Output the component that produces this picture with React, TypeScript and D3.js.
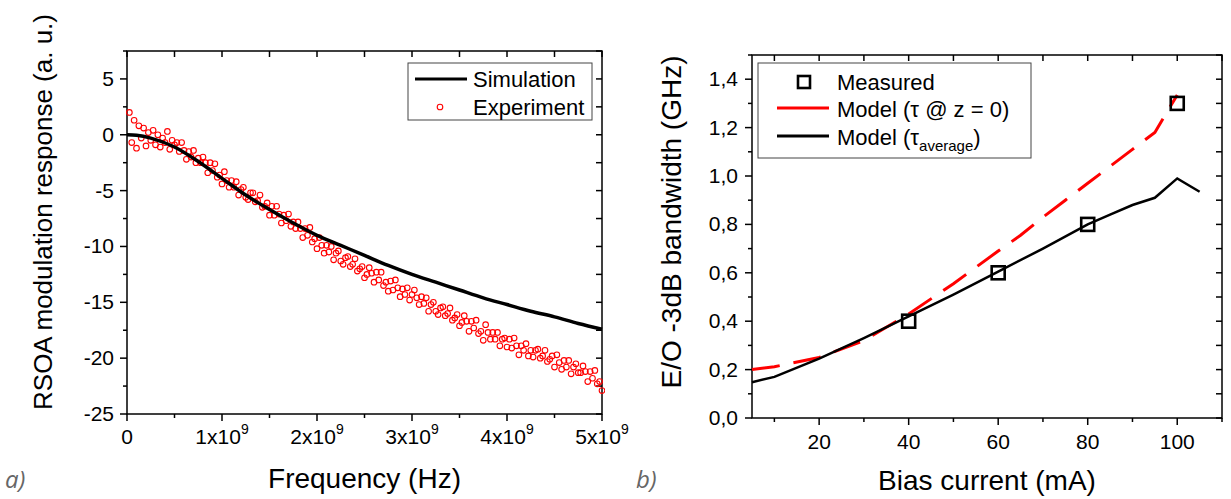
import React from "react";
import * as d3 from "d3";

// ---------- Panel a) data ----------
const simFreqGHz = [0, 0.1, 0.25, 0.5, 0.75, 1.0, 1.25, 1.5, 1.75, 2.0, 2.25, 2.5, 2.75, 3.0, 3.25, 3.5, 3.75, 4.0, 4.25, 4.5, 4.75, 5.0];
const simDb = [0, -0.05, -0.3, -1.1, -2.4, -3.9, -5.4, -6.7, -7.9, -9.0, -9.9, -10.8, -11.7, -12.5, -13.2, -13.9, -14.6, -15.2, -15.8, -16.3, -16.9, -17.4];

// experiment sweep: 25 MHz steps starting at 25 MHz
const expStepGHz = 0.025;
const expDb = [
  2.0, -0.7, 1.3, -1.2, 0.8, -0.3, 0.6, -1.0, 0.2, -0.5,
  0.4, -0.9, 0.0, -1.1, -0.3, -0.7, 0.3, -1.3, -0.5, -0.9,
  -0.7, -1.5, -0.7, -1.4, -2.2, -1.5, -2.0, -1.4, -2.5, -2.1,
  -2.5, -2.0, -2.5, -3.4, -2.5, -3.2, -2.6, -3.8, -3.6, -4.4,
  -3.3, -4.1, -4.7, -4.1, -4.7, -4.2, -5.4, -4.9, -4.7, -5.6,
  -5.8, -5.2, -5.2, -6.0, -5.9, -5.4, -6.5, -6.4, -6.1, -7.2,
  -6.4, -7.2, -6.4, -7.1, -7.9, -7.2, -7.7, -7.1, -8.2, -7.8,
  -8.4, -7.8, -8.4, -9.2, -8.4, -9.0, -8.3, -9.6, -9.3, -10.2,
  -9.2, -9.9, -10.6, -9.9, -10.5, -10.0, -11.2, -10.6, -10.4, -11.3,
  -11.6, -11.0, -10.9, -11.8, -11.6, -11.1, -12.2, -12.0, -11.8, -12.8,
  -12.5, -11.9, -12.4, -13.2, -12.3, -13.0, -12.3, -13.5, -13.2, -14.0,
  -13.1, -13.9, -13.0, -13.7, -14.5, -13.8, -14.3, -13.7, -14.8, -14.3,
  -13.9, -14.6, -15.2, -14.5, -15.1, -14.6, -15.8, -15.2, -15.0, -15.8,
  -16.1, -15.5, -15.4, -16.2, -16.0, -15.5, -16.6, -16.4, -16.1, -17.1,
  -16.8, -16.2, -16.7, -17.6, -16.7, -17.3, -16.6, -17.8, -17.6, -18.4,
  -17.0, -17.7, -18.3, -17.7, -18.3, -17.7, -18.9, -18.3, -18.2, -19.0,
  -18.3, -19.1, -18.2, -18.9, -19.7, -18.9, -19.3, -18.7, -19.8, -19.3,
  -19.9, -19.3, -19.2, -20.0, -19.8, -19.3, -20.3, -20.1, -19.8, -20.8,
  -19.7, -20.4, -21.0, -20.2, -20.8, -20.2, -21.4, -20.8, -20.5, -21.3,
  -21.3, -20.7, -21.2, -22.1, -21.2, -21.8, -21.1, -22.3, -22.1, -22.9,
];

const aXTicksGHz = [0, 1, 2, 3, 4, 5];
const aYTicks = [5, 0, -5, -10, -15, -20, -25];

// ---------- Panel b) data ----------
const measCurrent = [40, 60, 80, 100];
const measBw = [0.4, 0.6, 0.8, 1.3];
const modelZ0Current = [5, 10, 20, 30, 40, 50, 60, 65, 70, 75, 80, 85, 90, 95, 100];
const modelZ0Bw = [0.2, 0.212, 0.25, 0.32, 0.43, 0.555, 0.69, 0.755, 0.83, 0.9, 0.97, 1.04, 1.11, 1.18, 1.335];
const modelAvgCurrent = [5, 10, 20, 30, 40, 50, 60, 70, 80, 85, 90, 95, 100, 105];
const modelAvgBw = [0.148, 0.17, 0.245, 0.33, 0.42, 0.51, 0.605, 0.7, 0.8, 0.84, 0.88, 0.91, 0.99, 0.935];
const bXTicks = [20, 40, 60, 80, 100];
const bYTicks = [0, 0.2, 0.4, 0.6, 0.8, 1.0, 1.2, 1.4];

const FONT = "'Liberation Sans', Arial, sans-serif";

function rangeStep(a: number, b: number, s: number) {
  const out: number[] = [];
  for (let v = a; v <= b + 1e-9; v += s) out.push(+v.toFixed(6));
  return out;
}

function PanelA() {
  const L = 127, R = 602, T = 51, B = 414;
  const x = d3.scaleLinear().domain([0, 5]).range([L, R]);
  const y = d3.scaleLinear().domain([-25, 7.5]).range([B, T]);
  const simLine = d3
    .line<number>()
    .x((_, i) => x(simFreqGHz[i]))
    .y((d) => y(d))
    .curve(d3.curveMonotoneX)(simDb) as string;

  const minorX = rangeStep(0.5, 4.5, 1);
  const minorY = rangeStep(-22.5, 7.5, 5);
  const allX = rangeStep(0, 5, 0.5);
  const allY = rangeStep(-25, 7.5, 2.5);

  return (
    <g fontFamily={FONT}>
      <rect x={L} y={T} width={R - L} height={B - T} fill="none" stroke="#000" strokeWidth={1.5} />
      {aXTicksGHz.map((t) => (
        <line key={"bx" + t} x1={x(t)} x2={x(t)} y1={B} y2={B + 7} stroke="#000" strokeWidth={1.5} />
      ))}
      {minorX.map((t) => (
        <line key={"bmx" + t} x1={x(t)} x2={x(t)} y1={B} y2={B + 4} stroke="#000" strokeWidth={1.5} />
      ))}
      {allX.map((t) => (
        <line key={"tx" + t} x1={x(t)} x2={x(t)} y1={T} y2={T + 6} stroke="#000" strokeWidth={1.5} />
      ))}
      {aYTicks.map((t) => (
        <line key={"ly" + t} x1={L - 7} x2={L} y1={y(t)} y2={y(t)} stroke="#000" strokeWidth={1.5} />
      ))}
      {minorY.map((t) => (
        <line key={"lmy" + t} x1={L - 4} x2={L} y1={y(t)} y2={y(t)} stroke="#000" strokeWidth={1.5} />
      ))}
      {allY.map((t) => (
        <line key={"ry" + t} x1={R - 6} x2={R} y1={y(t)} y2={y(t)} stroke="#000" strokeWidth={1.5} />
      ))}
      {aYTicks.map((t) => (
        <text key={"yl" + t} x={L - 13} y={y(t) + 7} fontSize={21} textAnchor="end">
          {t}
        </text>
      ))}
      {aXTicksGHz.map((t) => (
        <text key={"xl" + t} x={x(t)} y={B + 30} fontSize={21} textAnchor="middle">
          {t === 0 ? (
            "0"
          ) : (
            <>
              <tspan>{t + "x10"}</tspan>
              <tspan dy={-10} fontSize={14}>9</tspan>
            </>
          )}
        </text>
      ))}
      <g clipPath="url(#clipA)">
        {expDb.map((d, i) => (
          <circle key={"e" + i} cx={x((i + 1) * expStepGHz)} cy={y(d)} r={2.8} fill="none" stroke="#ff0000" strokeWidth={1.1} />
        ))}
        <path d={simLine} fill="none" stroke="#000" strokeWidth={3.5} />
      </g>
      <clipPath id="clipA">
        <rect x={L - 3} y={T} width={R - L + 6} height={B - T} />
      </clipPath>
      <text x={(L + R) / 2} y={488} fontSize={28} textAnchor="middle">
        Frequency (Hz)
      </text>
      <text transform="translate(52,212) rotate(-90)" fontSize={26} textAnchor="middle">
        RSOA modulation response (a. u.)
      </text>
      <rect x={408} y={63} width={184} height={57} fill="#fff" stroke="#444" strokeWidth={1} />
      <line x1={415} x2={467} y1={79} y2={79} stroke="#000" strokeWidth={3} />
      <text x={473} y={87} fontSize={22}>Simulation</text>
      <circle cx={440} cy={107} r={2.8} fill="none" stroke="#ff0000" strokeWidth={1.1} />
      <text x={473} y={115} fontSize={22}>Experiment</text>
    </g>
  );
}

function PanelB() {
  const L = 752, R = 1222, T = 55, B = 418;
  const x = d3.scaleLinear().domain([5, 110]).range([L, R]);
  const y = d3.scaleLinear().domain([0, 1.5]).range([B, T]);
  const lineZ0 = d3
    .line<number>()
    .x((_, i) => x(modelZ0Current[i]))
    .y((d) => y(d))(modelZ0Bw) as string;
  const lineAvg = d3
    .line<number>()
    .x((_, i) => x(modelAvgCurrent[i]))
    .y((d) => y(d))(modelAvgBw) as string;

  const minorX = rangeStep(10, 110, 20);
  const minorY = rangeStep(0.1, 1.5, 0.2);
  const allX = rangeStep(10, 110, 10);
  const allY = rangeStep(0, 1.5, 0.1);
  const fmt = (v: number) => v.toFixed(1).replace(".", ",");
  const sq = 13;

  return (
    <g fontFamily={FONT}>
      <rect x={L} y={T} width={R - L} height={B - T} fill="none" stroke="#000" strokeWidth={1.5} />
      {bXTicks.map((t) => (
        <line key={"bx" + t} x1={x(t)} x2={x(t)} y1={B} y2={B + 7} stroke="#000" strokeWidth={1.5} />
      ))}
      {minorX.map((t) => (
        <line key={"bmx" + t} x1={x(t)} x2={x(t)} y1={B} y2={B + 4} stroke="#000" strokeWidth={1.5} />
      ))}
      {allX.map((t) => (
        <line key={"tx" + t} x1={x(t)} x2={x(t)} y1={T} y2={T + 6} stroke="#000" strokeWidth={1.5} />
      ))}
      {bYTicks.map((t) => (
        <line key={"ly" + t} x1={L - 7} x2={L} y1={y(t)} y2={y(t)} stroke="#000" strokeWidth={1.5} />
      ))}
      {minorY.map((t) => (
        <line key={"lmy" + t} x1={L - 4} x2={L} y1={y(t)} y2={y(t)} stroke="#000" strokeWidth={1.5} />
      ))}
      {allY.map((t) => (
        <line key={"ry" + t} x1={R - 6} x2={R} y1={y(t)} y2={y(t)} stroke="#000" strokeWidth={1.5} />
      ))}
      {bYTicks.map((t) => (
        <text key={"yl" + t} x={L - 14} y={y(t) + 7} fontSize={21} textAnchor="end">
          {fmt(t)}
        </text>
      ))}
      {bXTicks.map((t) => (
        <text key={"xl" + t} x={x(t)} y={B + 31} fontSize={21} textAnchor="middle">
          {t}
        </text>
      ))}
      <path d={lineZ0} fill="none" stroke="#ff0000" strokeWidth={3} strokeDasharray="28 14" />
      <path d={lineAvg} fill="none" stroke="#000" strokeWidth={2.5} />
      {measCurrent.map((c, i) => (
        <rect key={"m" + i} x={x(c) - sq / 2} y={y(measBw[i]) - sq / 2} width={sq} height={sq} fill="none" stroke="#000" strokeWidth={2.6} />
      ))}
      <text x={(L + R) / 2} y={490} fontSize={28} textAnchor="middle">
        Bias current (mA)
      </text>
      <text transform="translate(681,222) rotate(-90)" fontSize={28} textAnchor="middle">
        E/O -3dB bandwidth (GHz)
      </text>
      <rect x={758} y={63} width={273} height={95} fill="#fff" stroke="#444" strokeWidth={1} />
      <rect x={804 - 6} y={82 - 6} width={12} height={12} fill="none" stroke="#000" strokeWidth={2.6} />
      <text x={837} y={90} fontSize={22}>Measured</text>
      <line x1={777} x2={829} y1={108} y2={108} stroke="#ff0000" strokeWidth={3} />
      <text x={837} y={117} fontSize={22}>Model (τ @ z = 0)</text>
      <line x1={777} x2={829} y1={136} y2={136} stroke="#000" strokeWidth={3} />
      <text x={837} y={145} fontSize={22}>
        <tspan>Model (τ</tspan>
        <tspan dy={6} fontSize={15}>average</tspan>
        <tspan dy={-6}>)</tspan>
      </text>
    </g>
  );
}

export default function App() {
  return (
    <svg width={1231} height={499} style={{ position: "absolute", left: 0, top: 0, background: "#fff" }}>
      <rect width={1231} height={499} fill="#fff" />
      <PanelA />
      <PanelB />
      <text x={5} y={488} fontSize={24} fontStyle="italic" fill="#666" fontFamily="'Open Sans', 'DejaVu Sans', sans-serif">
        a)
      </text>
      <text x={636} y={488} fontSize={24} fontStyle="italic" fill="#666" fontFamily="'Open Sans', 'DejaVu Sans', sans-serif">
        b)
      </text>
    </svg>
  );
}
